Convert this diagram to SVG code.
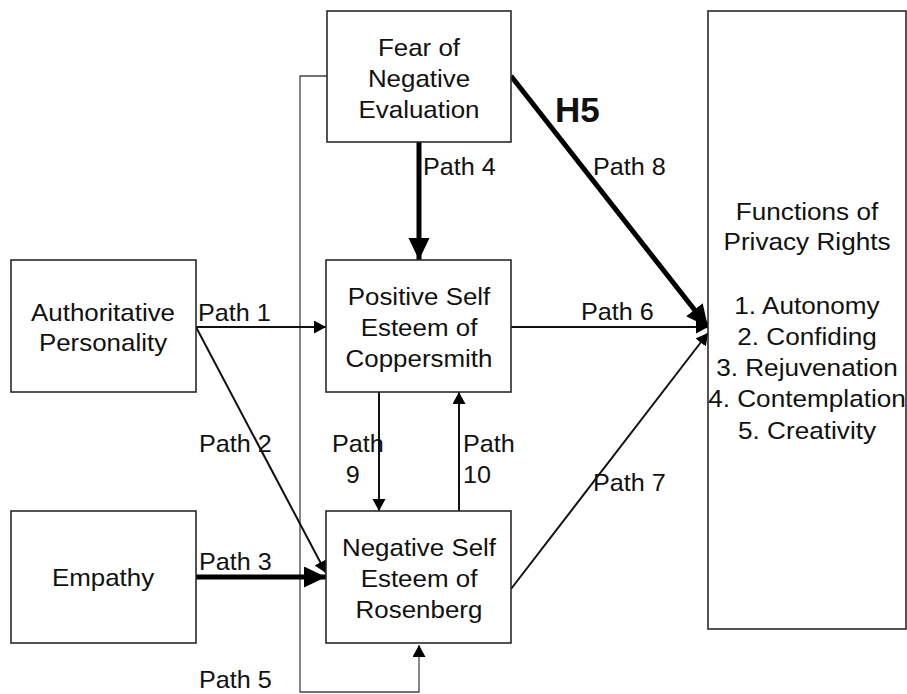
<svg xmlns="http://www.w3.org/2000/svg" width="907" height="694" viewBox="0 0 907 694">
<style>
.box{fill:#fff;stroke:#2a2a2a;stroke-width:1.6}
.t{font-family:"Liberation Sans",Arial,sans-serif;font-size:24px;fill:#111}
.c{text-anchor:middle}
.thin{fill:none;stroke:#111;stroke-width:2}
.thick{fill:none;stroke:#000;stroke-width:5}
.thin5{fill:none;stroke:#444;stroke-width:1.3}
</style>
<defs>
<marker id="a" markerUnits="userSpaceOnUse" markerWidth="14" markerHeight="14" refX="12" refY="6.5" orient="auto"><path d="M0,0 L12,6.5 L0,13 z" fill="#000"/></marker>
<marker id="A" markerUnits="userSpaceOnUse" markerWidth="26" markerHeight="24" refX="22" refY="10.5" orient="auto"><path d="M0,0 L22,10.5 L0,21 z" fill="#000"/></marker>
</defs>
<rect width="907" height="694" fill="#fff"/>
<g id="connectors">
<polyline class="thin5" points="327,76 300,76 300,692 419,692 419,645" marker-end="url(#a)"/>
<line class="thin" x1="196" y1="327" x2="326" y2="327" marker-end="url(#a)"/>
<line class="thin" x1="196" y1="327" x2="326" y2="573" marker-end="url(#a)"/>
<line class="thick" x1="196" y1="577" x2="326" y2="577" marker-end="url(#A)"/>
<line class="thick" x1="419" y1="142" x2="419" y2="260" marker-end="url(#A)"/>
<line class="thin" x1="511" y1="327" x2="708" y2="327" marker-end="url(#a)"/>
<line class="thin" x1="511" y1="589" x2="708" y2="333" marker-end="url(#a)"/>
<line class="thick" x1="511" y1="76" x2="708" y2="327" stroke-width="6" marker-end="url(#A)"/>
<line class="thin" x1="379" y1="392" x2="379" y2="511" marker-end="url(#a)"/>
<line class="thin" x1="459" y1="511" x2="459" y2="392" marker-end="url(#a)"/>
<g class="t">
<text transform="translate(198 321) scale(1.05 1)">Path 1</text>
<text transform="translate(199 452) scale(1.05 1)">Path 2</text>
<text transform="translate(199 570) scale(1.05 1)">Path 3</text>
<text transform="translate(423 175) scale(1.05 1)">Path 4</text>
<text transform="translate(199 688) scale(1.05 1)">Path 5</text>
<text transform="translate(581 320) scale(1.05 1)">Path 6</text>
<text transform="translate(593 491) scale(1.05 1)">Path 7</text>
<text transform="translate(593 175) scale(1.05 1)">Path 8</text>
<text transform="translate(332 452) scale(1.05 1)">Path<tspan x="13" y="31">9</tspan></text>
<text transform="translate(463 452) scale(1.05 1)">Path<tspan x="0" y="31">10</tspan></text>
</g>
<text x="555" y="122" style="font-family:'Liberation Sans',Arial,sans-serif;font-size:35px;font-weight:bold;fill:#111">H5</text>
</g>
<g id="fear">
<rect class="box" x="327" y="11" width="184" height="131"/>
<text class="t c" transform="translate(419 56) scale(1.08 1)"><tspan x="0" y="0">Fear of</tspan><tspan x="0" y="31">Negative</tspan><tspan x="0" y="62">Evaluation</tspan></text>
</g>
<g id="authoritative">
<rect class="box" x="11" y="260" width="185" height="132"/>
<text class="t c" transform="translate(103 321) scale(1.08 1)"><tspan x="0" y="0">Authoritative</tspan><tspan x="0" y="30">Personality</tspan></text>
</g>
<g id="empathy">
<rect class="box" x="11" y="511" width="185" height="132"/>
<text class="t c" transform="translate(103 586) scale(1.08 1)">Empathy</text>
</g>
<g id="positive">
<rect class="box" x="326" y="260" width="185" height="132"/>
<text class="t c" transform="translate(419 305) scale(1.08 1)"><tspan x="0" y="0">Positive Self</tspan><tspan x="0" y="31">Esteem of</tspan><tspan x="0" y="62">Coppersmith</tspan></text>
</g>
<g id="negative">
<rect class="box" x="326" y="511" width="185" height="132"/>
<text class="t c" transform="translate(419 556) scale(1.08 1)"><tspan x="0" y="0">Negative Self</tspan><tspan x="0" y="31">Esteem of</tspan><tspan x="0" y="62">Rosenberg</tspan></text>
</g>
<g id="functions">
<rect class="box" x="708" y="11" width="198" height="618"/>
<text class="t c" transform="translate(807 220) scale(1.09 1)"><tspan x="0" y="0">Functions of</tspan><tspan x="0" y="30">Privacy Rights</tspan><tspan x="0" y="94">1. Autonomy</tspan><tspan x="0" y="125">2. Confiding</tspan><tspan x="0" y="156">3. Rejuvenation</tspan><tspan x="0" y="187">4. Contemplation</tspan><tspan x="0" y="219">5. Creativity</tspan></text>
</g>
</svg>
